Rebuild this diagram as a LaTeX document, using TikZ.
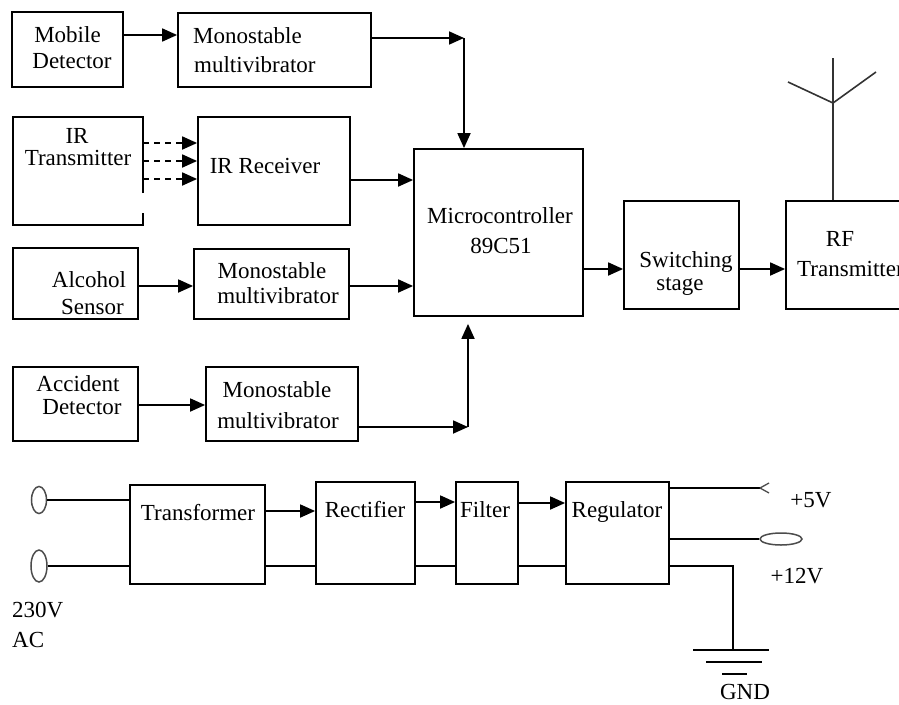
\documentclass[tikz,border=0pt]{standalone}
\usepackage{fontspec}
\setmainfont{Liberation Serif}
\usetikzlibrary{arrows.meta,shapes.geometric}
\begin{document}
\begin{tikzpicture}[x=1pt,y=-1pt,
  box/.style 2 args={draw,line width=1.8pt,inner sep=0pt,minimum width=#1,minimum height=#2},
  txt/.style={font=\fontsize{23}{27}\selectfont,anchor=base,inner sep=0pt},
  txtl/.style={txt,anchor=base west},
  ln/.style={line width=1.8pt},
  arr/.style={line width=1.8pt,-{Triangle[length=15pt,width=13pt]}},
  dsh/.style={arr,dash pattern=on 6pt off 5pt},
  term/.style={ellipse,draw,inner sep=0pt,line width=1.5pt,black!70}]
\useasboundingbox (0,0) rectangle (899,704);
% ---------- boxes ----------
\node[box={111}{75}] (md) at (67.5,49.5) {};
\node[box={193}{74}] (mm1) at (274.5,50) {};
\node[inner sep=0pt,minimum width=130,minimum height=108] (irt) at (78,171) {};
\draw[ln,line join=miter] (irt.east |- 0,193) -- (irt.north east) -- (irt.north west) -- (irt.south west) -- (irt.south east) -- (irt.east |- 0,213);
\node[box={152}{108}] (irr) at (274,171) {};
\node[box={169}{167}] (mc) at (498.5,232.5) {};
\node[box={125}{71}] (as) at (75.5,283.5) {};
\node[box={155}{70}] (mm3) at (271.5,284) {};
\node[box={125}{74}] (ad) at (75.5,404) {};
\node[box={152}{74}] (mm4) at (282,404) {};
\node[box={115}{108}] (ss) at (681.5,255) {};
\node[box={134}{108}] (rf) at (853,255) {};
\node[box={135}{99}] (tr) at (197.5,534.5) {};
\node[box={99}{102}] (rc) at (365.5,533) {};
\node[box={62}{102}] (fl) at (487,533) {};
\node[box={103}{102}] (rg) at (617.5,533) {};
% ---------- texts ----------
\node[txt] (tmd1) at (67.5,42) {Mobile};
\node[txt] (tmd2) at (72,68) {Detector};
\node[txtl] (tmm11) at (193,43) {Monostable};
\node[txtl] (tmm12) at (194,72) {multivibrator};
\node[txt] (tirt1) at (77,143) {IR};
\node[txt] (tirt2) at (78,165) {Transmitter};
\node[txt] (tirr) at (265,173) {IR Receiver};
\node[txt] (tmc1) at (500,223) {Microcontroller};
\node[txt] (tmc2) at (501,253) {89C51};
\node[txt] (tss1) at (686,267) {Switching};
\node[txt] (tss2) at (680,290) {stage};
\node[txt] (trf1) at (840,246) {RF};
\node[txtl] (trf2) at (797,276) {Transmitter};
\node[txt] (tas1) at (89,287) {Alcohol};
\node[txt] (tas2) at (92.5,314) {Sensor};
\node[txt] (tmm31) at (272,278) {Monostable};
\node[txt] (tmm32) at (278,303) {multivibrator};
\node[txt] (tad1) at (78,391) {Accident};
\node[txt] (tad2) at (82,414) {Detector};
\node[txt] (tmm41) at (277,397) {Monostable};
\node[txt] (tmm42) at (278,428) {multivibrator};
\node[txt] (ttr) at (198,520) {Transformer};
\node[txt] (trc) at (365,517) {Rectifier};
\node[txt] (tfl) at (485,517) {Filter};
\node[txt] (trg) at (617,517) {Regulator};
\node[txt] (t5v) at (811,507) {+5V};
\node[txt] (t12v) at (797,583) {+12V};
\node[txt] (tgnd) at (745,699) {GND};
\node[txtl] (tac1) at (12,617) {230V};
\node[txtl] (tac2) at (12,647) {AC};
% ---------- connectors ----------
\coordinate (c1) at (464,38);
\coordinate (c2) at (468,427);
\draw[arr] (md.east |- 0,35) -- (mm1.west |- 0,35);
\draw[arr] (mm1.east |- c1) -- (c1);
\draw[arr] (c1) -- (mc.north -| c1);
\foreach \yy in {143,161,179} \draw[dsh] (irt.east |- 0,\yy) -- (irr.west |- 0,\yy);
\draw[arr] (irr.east |- 0,180) -- (mc.west |- 0,180);
\draw[arr] (as.east |- 0,286) -- (mm3.west |- 0,286);
\draw[arr] (mm3.east |- 0,286) -- (mc.west |- 0,286);
\draw[arr] (ad.east |- 0,405) -- (mm4.west |- 0,405);
\draw[arr] (mm4.east |- c2) -- (c2);
\draw[arr,shorten >=7pt] (c2) -- (mc.south -| c2);
\draw[arr] (mc.east |- 0,269) -- (ss.west |- 0,269);
\draw[arr] (ss.east |- 0,269) -- (rf.west |- 0,269);
% antenna
\coordinate (ant) at (833,58);
\coordinate (antc) at (833,103);
\coordinate (antl) at (788,82);
\coordinate (antr) at (876,72);
\draw[line width=1.6pt,black!80] (rf.north -| ant) -- (ant);
\draw[line width=1.6pt,black!80] (antl) -- (antc) -- (antr);
% power supply
\node[term,minimum width=15,minimum height=27] (t1) at (39,500) {};
\node[term,minimum width=16,minimum height=32] (t2) at (39,566) {};
\draw[ln] (t1.east) -- (tr.west |- t1.east);
\draw[ln] (t2.east) -- (tr.west |- t2.east);
\draw[arr] (tr.east |- 0,511) -- (rc.west |- 0,511);
\draw[arr] (rc.east |- 0,502) -- (fl.west |- 0,502);
\draw[arr] (fl.east |- 0,503) -- (rg.west |- 0,503);
\draw[ln] (tr.east |- 0,566) -- (rc.west |- 0,566);
\draw[ln] (rc.east |- 0,566) -- (fl.west |- 0,566);
\draw[ln] (fl.east |- 0,566) -- (rg.west |- 0,566);
\coordinate (p5) at (760,488);
\draw[ln] (rg.east |- p5) -- (p5);
\draw[line width=1.3pt,black!70] (p5) -- ++(9,-5) (p5) -- ++(9,5);
\node[term,minimum width=42,minimum height=12] (o12) at (781,539) {};
\draw[ln] (rg.east |- o12) -- (o12.west);
\coordinate (g) at (733,650);
\draw[ln] (rg.east |- 0,566) -| (g);
\draw[line width=1.6pt] (693,650) -- (769,650);
\draw[line width=1.6pt] (706,662) -- (762,662);
\draw[line width=1.6pt] (722,674) -- (747,674);
\end{tikzpicture}
\end{document}
